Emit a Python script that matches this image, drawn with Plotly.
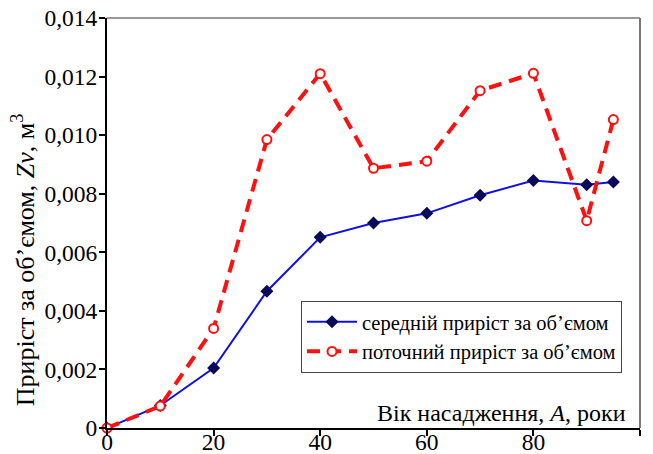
import plotly.graph_objects as go

ages = [0, 10, 20, 30, 40, 50, 60, 70, 80, 90, 95]
mean_inc = [0.0, 0.00077, 0.00205, 0.00467, 0.00651, 0.00700, 0.00733, 0.00795, 0.00845, 0.00831, 0.00840]
curr_inc = [0.0, 0.00075, 0.00340, 0.00985, 0.01210, 0.00887, 0.00911, 0.01152, 0.01211, 0.00708, 0.01053]

x_ticks = [0, 20, 40, 60, 80, 100]
y_tickvals = [0, 0.002, 0.004, 0.006, 0.008, 0.010, 0.012, 0.014]
y_ticktext = ["0", "0,002", "0,004", "0,006", "0,008", "0,010", "0,012", "0,014"]

name_mean = "середній приріст за об’ємом"
name_curr = "поточний приріст за об’ємом"
y_title = "Приріст за об’ємом, <i>Zv</i>, м<sup>3</sup>"
x_title = "Вік насадження, <i>A</i>, роки"

FONT = "Liberation Serif"

fig = go.Figure()
fig.add_trace(go.Scatter(
    x=ages, y=mean_inc, name=name_mean, mode="lines+markers",
    line=dict(color="#1010E0", width=2),
    marker=dict(symbol="diamond", size=10, color="#0A0A5A"),
    cliponaxis=False,
))
fig.add_trace(go.Scatter(
    x=ages, y=curr_inc, name=name_curr, mode="lines+markers",
    line=dict(color="#FF1010", width=4, dash="13px,8px"),
    marker=dict(symbol="circle", size=9, color="white",
                line=dict(color="#FF1010", width=2)),
    cliponaxis=False,
))

fig.update_layout(
    width=653, height=454,
    margin=dict(l=107, r=13, t=18, b=26, autoexpand=False),
    paper_bgcolor="white", plot_bgcolor="white",
    font=dict(family=FONT, size=22, color="black"),
    showlegend=True,
    legend=dict(
        x=0.364, y=0.31, xanchor="left", yanchor="top",
        bgcolor="white", bordercolor="#444", borderwidth=1,
        font=dict(family=FONT, size=20.5, color="black"),
        tracegroupgap=0, itemwidth=50,
    ),
    xaxis=dict(
        range=[0, 100], tickvals=x_ticks, ticks="outside", ticklen=6,
        tickwidth=1.5, tickcolor="black", automargin=False,
        ticklabelstandoff=-14,
        showline=True, linecolor="black", linewidth=2, showgrid=False,
        zeroline=False, tickfont=dict(family=FONT, size=23.5),
    ),
    yaxis=dict(
        range=[0, 0.014], tickvals=y_tickvals, ticktext=y_ticktext,
        ticks="outside", ticklen=6, tickwidth=1.5, tickcolor="black", automargin=False,
        ticklabelstandoff=-3,
        showline=True, linecolor="black", linewidth=2, showgrid=False,
        zeroline=False, tickfont=dict(family=FONT, size=23.5),
    ),
    shapes=[
        dict(type="line", xref="paper", yref="paper", x0=0, x1=1, y0=1, y1=1,
             line=dict(color="#777", width=1.5)),
        dict(type="line", xref="paper", yref="paper", x0=1, x1=1, y0=0, y1=1,
             line=dict(color="#777", width=2)),
    ],
    annotations=[
        dict(text=y_title, xref="paper", yref="paper", textangle=-90,
             x=-0.155, y=0.41, xanchor="center", yanchor="middle", showarrow=False,
             font=dict(family=FONT, size=26, color="black")),
        dict(text=x_title, xref="paper", yref="paper",
             x=0.977, y=0.0, xanchor="right", yanchor="bottom", showarrow=False,
             font=dict(family=FONT, size=24, color="black")),
    ],
)

fig.write_html("out.html")
